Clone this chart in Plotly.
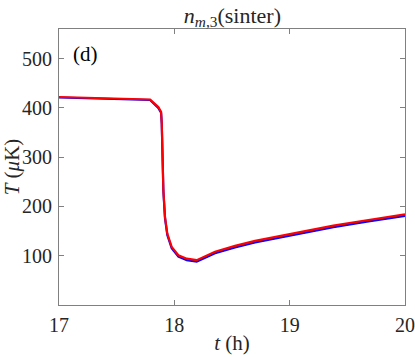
import plotly.graph_objects as go

# Data (t in hours, T in microkelvin)
t_red = [17.0, 17.3, 17.6, 17.79, 17.861, 17.885, 17.891, 17.896, 17.905, 17.919,
         17.939, 17.977, 18.035, 18.108, 18.194, 18.353, 18.526, 18.70, 18.873,
         19.047, 19.379, 19.669, 19.957, 20.0]
T_red = [422, 420, 418, 417, 402, 392, 369, 301, 233, 179,
         145, 118, 101, 94, 91, 108, 120, 130, 138,
         146.5, 161, 172, 182.5, 184]

t_blue = [17.0, 17.3, 17.6, 17.79, 17.861, 17.885, 17.891, 17.896, 17.905, 17.919,
          17.939, 17.977, 18.035, 18.108, 18.194, 18.353, 18.526, 18.70, 18.873,
          19.047, 19.379, 19.669, 19.957, 20.0]
T_blue = [421, 419, 417, 416, 400, 390, 367, 299, 231, 176,
          142, 115, 98, 91, 88, 105, 117, 127, 135,
          143.5, 158, 169, 179.5, 181]

x_ticks = [17, 18, 19, 20]
y_ticks = [100, 200, 300, 400, 500]

fig = go.Figure()
fig.add_trace(go.Scatter(x=t_blue, y=T_blue, mode="lines",
                         line=dict(color="#0000ff", width=2.2)))
fig.add_trace(go.Scatter(x=t_red, y=T_red, mode="lines",
                         line=dict(color="#ff0000", width=2.2)))

font = "Liberation Serif"
txt = "#262626"
axis_common = dict(showline=True, linecolor="#808080", linewidth=1, mirror="ticks",
                   ticks="inside", ticklen=5, tickcolor="#808080", showgrid=False,
                   zeroline=False, automargin=False,
                   tickfont=dict(family=font, size=20, color=txt))

fig.update_layout(
    width=415, height=357,
    margin=dict(l=59, r=10, t=29, b=52),
    paper_bgcolor="white", plot_bgcolor="white",
    showlegend=False,
    title=dict(text="<i>n</i><sub><i>m</i>,3</sub>(sinter)", x=0.56, xanchor="center",
               y=0.958, yanchor="middle",
               font=dict(family=font, size=22, color=txt)),
    xaxis=dict(range=[17, 20], tickvals=x_ticks, ticklabelstandoff=2,
               title=dict(text="<i>t</i> (h)", standoff=0,
                          font=dict(family=font, size=21, color=txt)),
               **axis_common),
    yaxis=dict(range=[0, 560], tickvals=y_ticks, ticklabelstandoff=2,
               title=dict(text="<i>T</i> (<i>μ</i>K)", standoff=0,
                          font=dict(family=font, size=21, color=txt)),
               **axis_common),
    annotations=[dict(text="(d)", xref="paper", yref="paper", x=0.035, y=0.96,
                      xanchor="left", yanchor="top", showarrow=False,
                      font=dict(family=font, size=21, color="#000000"))],
)

fig.write_html("out.html", config={"displayModeBar": False},
               post_script="document.body.style.margin='0px';")
